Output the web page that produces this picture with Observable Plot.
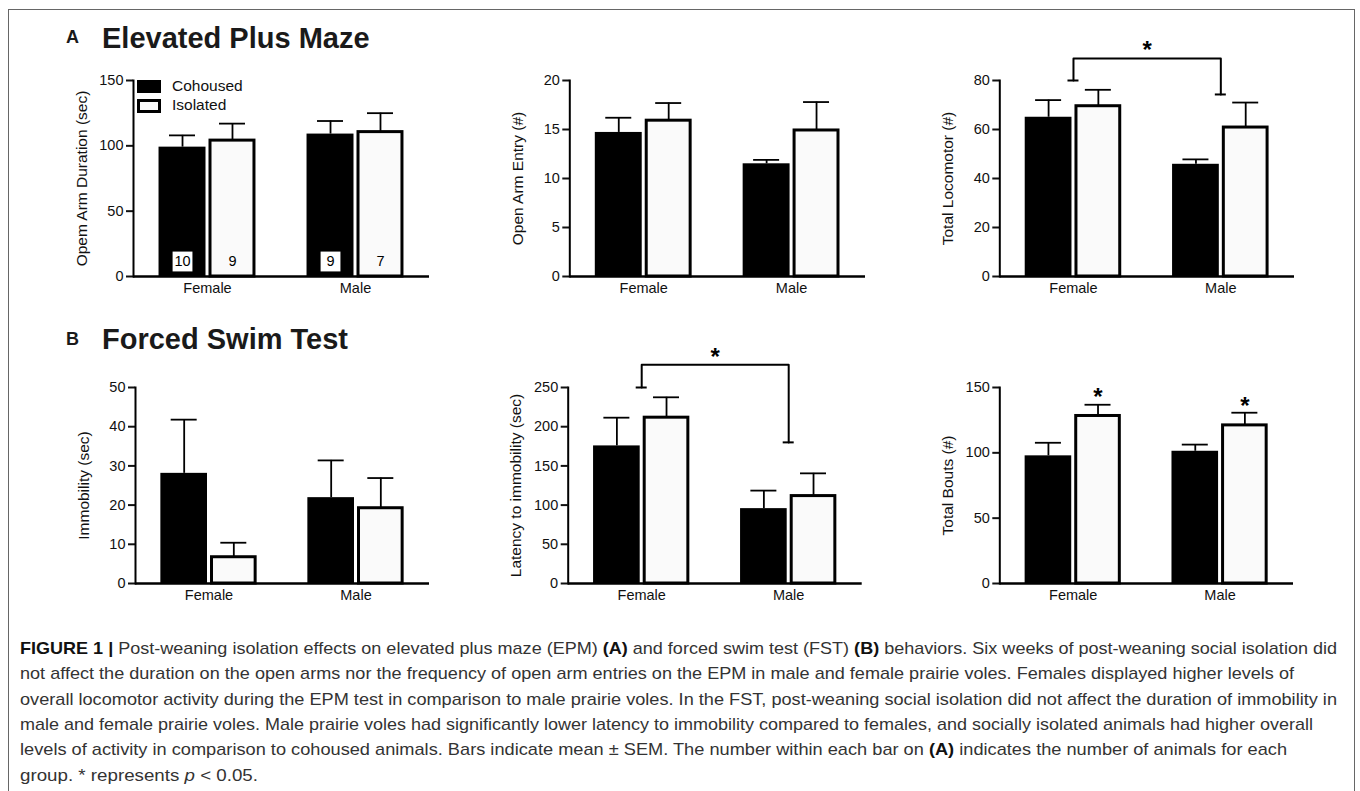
<!DOCTYPE html>
<html>
<head>
<meta charset="utf-8">
<script src="https://cdn.jsdelivr.net/npm/d3@7"></script>
<script src="https://cdn.jsdelivr.net/npm/@observablehq/plot@0.6"></script>
<style>
html, body { margin: 0; padding: 0; background: #fff; overflow: hidden; }
#fig { position: relative; width: 1360px; height: 791px; overflow: hidden; font-family: "Liberation Sans", Arial, Helvetica, sans-serif; }
#border { position: absolute; left: 8px; top: 9px; width: 1347px; height: 900px; border: 1.5px solid #666; box-sizing: border-box; }
.panel { position: absolute; }
.panel svg { overflow: visible; }
.panel g[aria-label="y-axis tick"] { stroke-width: 2px; }
.panel g[aria-label="y-axis label"] text, .panel g[aria-label="y-axis label"] { font-size: 15.5px; }
#overlay { position: absolute; left: 0; top: 0; pointer-events: none; }
.legend { position: absolute; font-size: 15.5px; color: #111; }
.sw { position: absolute; width: 24px; height: 13.5px; box-sizing: border-box; }
</style>
</head>
<body>
<div id="fig">
  <div id="border"></div>
</div>
<script>
// ---------- data ----------
const sexes = ["Female", "Male"];
const housing = ["Cohoused", "Isolated"];
// value order: Female-Cohoused, Female-Isolated, Male-Cohoused, Male-Isolated

const epmDurationMean = [99, 104, 109, 110.5];
const epmDurationSem = [9, 13, 10, 14.5];
const epmDurationN = [10, 9, 9, 7];
const epmDurationTicks = [0, 50, 100, 150];

const epmEntryMean = [14.7, 15.9, 11.5, 14.9];
const epmEntrySem = [1.5, 1.8, 0.4, 2.9];
const epmEntryTicks = [0, 5, 10, 15, 20];

const epmLocoMean = [65, 69.5, 45.8, 60.8];
const epmLocoSem = [7, 6.7, 2, 10.2];
const epmLocoTicks = [0, 20, 40, 60, 80];
const epmLocoBracket = [80, 89, 74.3]; // Female end, bracket top, Male end
const epmLocoStar = 95;

const fstImmMean = [28.1, 6.7, 21.9, 19.2];
const fstImmSem = [13.7, 3.7, 9.5, 7.7];
const fstImmTicks = [0, 10, 20, 30, 40, 50];

const fstLatMean = [175.5, 211.5, 95.5, 111.5];
const fstLatSem = [36, 26, 23, 29];
const fstLatTicks = [0, 50, 100, 150, 200, 250];
const fstLatBracket = [250, 279, 180];
const fstLatStar = 297;

const fstBoutsMean = [97.7, 128.2, 101.2, 121];
const fstBoutsSem = [10, 8.6, 5.1, 9.7];
const fstBoutsTicks = [0, 50, 100, 150];
const fstBoutsIsoStars = [147.5, 141];

const legendLabels = ["Cohoused", "Isolated"];

const panelTitles = [["A", "Elevated Plus Maze"], ["B", "Forced Swim Test"]];

const captionLines = [
  [["FIGURE 1 |", "b"], [" Post-weaning isolation effects on elevated plus maze (EPM) ", ""], ["(A)", "b"], [" and forced swim test (FST) ", ""], ["(B)", "b"], [" behaviors. Six weeks of post-weaning social isolation did", ""]],
  [["not affect the duration on the open arms nor the frequency of open arm entries on the EPM in male and female prairie voles. Females displayed higher levels of", ""]],
  [["overall locomotor activity during the EPM test in comparison to male prairie voles. In the FST, post-weaning social isolation did not affect the duration of immobility in", ""]],
  [["male and female prairie voles. Male prairie voles had significantly lower latency to immobility compared to females, and socially isolated animals had higher overall", ""]],
  [["levels of activity in comparison to cohoused animals. Bars indicate mean \u00b1 SEM. The number within each bar on ", ""], ["(A)", "b"], [" indicates the number of animals for each", ""]],
  [["group. * represents ", ""], ["p", "i"], [" < 0.05.", ""]]
];

// ---------- drawing ----------
const fig = document.getElementById("fig");
const PAD = 0.345;

function makePanel(p) {
  const W = 450, H = 270;
  const step = (p.axisR - p.axisL) / 2;
  const bw = step * (1 - PAD);
  const half = bw / 2;
  const off = (half + 1.5) / 2;
  const cohC = half - off, isoC = half + off;
  const cap = 26;
  const rows = sexes.flatMap((s, i) => housing.map((h, j) => {
    const k = i * 2 + j;
    return {sex: s, housing: h, mean: p.mean[k], sem: p.sem[k], top: p.mean[k] + p.sem[k], n: p.n ? p.n[k] : null};
  }));
  const coh = rows.filter(d => d.housing === housing[0]);
  const iso = rows.filter(d => d.housing === housing[1]);
  const marks = [
    Plot.ruleX(coh, {x: "sex", y1: "mean", y2: "top", dx: -off, stroke: "#000", strokeWidth: 1.8}),
    Plot.ruleX(iso, {x: "sex", y1: "mean", y2: "top", dx: off, stroke: "#000", strokeWidth: 1.8}),
    Plot.tickY(coh, {x: "sex", y: "top", insetLeft: cohC - cap / 2, insetRight: bw - cohC - cap / 2, stroke: "#000", strokeWidth: 1.8}),
    Plot.tickY(iso, {x: "sex", y: "top", insetLeft: isoC - cap / 2, insetRight: bw - isoC - cap / 2, stroke: "#000", strokeWidth: 1.8}),
    Plot.barY(coh, {x: "sex", y: "mean", fill: "#000", insetRight: half + 1.5}),
    Plot.barY(iso, {x: "sex", y: "mean", fill: "#fafafa", stroke: "#000", strokeWidth: 3, insetLeft: half + 3, insetRight: 1.5}),
  ];
  if (p.n) {
    marks.push(
      Plot.dot(coh, {x: "sex", y: () => 0, dx: -off, dy: -15, symbol: "square", r: 11.2, fill: "#fff", stroke: "none"}),
      Plot.text(coh, {x: "sex", y: () => 0, dx: -off, dy: -15, text: d => String(d.n), fill: "#000"}),
      Plot.text(iso, {x: "sex", y: () => 0, dx: off, dy: -15, text: d => String(d.n), fill: "#000"})
    );
  }
  if (p.bracket) {
    const b = p.bracket;
    const br = [{sex: sexes[0], v: b[0]}, {sex: sexes[0], v: b[1]}, {sex: sexes[1], v: b[1]}, {sex: sexes[1], v: b[2]}];
    marks.push(
      Plot.line(br, {x: "sex", y: "v", stroke: "#000", strokeWidth: 2}),
      Plot.tickY([br[0], br[3]], {x: "sex", y: "v", insetLeft: (bw - 11) / 2, insetRight: (bw - 11) / 2, stroke: "#000", strokeWidth: 2}),
      Plot.text([p.star], {y: d => d, text: () => "*", frameAnchor: "middle", fontSize: 24, fontWeight: "bold", dy: 7, fill: "#000"})
    );
  }
  if (p.isoStars) {
    const st = sexes.map((s, i) => ({sex: s, v: p.isoStars[i]}));
    marks.push(Plot.text(st, {x: "sex", y: "v", dx: off, text: () => "*", fontSize: 24, fontWeight: "bold", dy: 7, fill: "#000"}));
  }
  marks.push(
    Plot.ruleY([0], {stroke: "#000", strokeWidth: 2.5}),
    Plot.frame({anchor: "left", stroke: "#000", strokeWidth: 2})
  );
  const plot = Plot.plot({
    width: W, height: H,
    marginLeft: p.axisL - p.left,
    marginRight: p.left + W - p.axisR,
    marginTop: p.yTop - p.top,
    marginBottom: p.top + H - p.yBot,
    style: {fontFamily: "'Liberation Sans', Arial, Helvetica, sans-serif", fontSize: "14.5px", background: "transparent", overflow: "visible", color: "#111"},
    x: {domain: sexes, paddingInner: PAD, paddingOuter: PAD / 2, round: false, label: null, tickSize: 0, tickPadding: 6},
    y: {domain: [0, p.yMax], ticks: p.ticks, tickFormat: d => String(d), tickSize: 7, tickPadding: 3, label: p.label, labelArrow: "none", labelAnchor: "center", labelOffset: 58},
    marks
  });
  const div = document.createElement("div");
  div.className = "panel";
  div.style.left = p.left + "px";
  div.style.top = p.top + "px";
  div.appendChild(plot);
  fig.appendChild(div);
}

makePanel({left: 0, top: 30, axisL: 133, axisR: 429, yTop: 80, yBot: 276, yMax: 150, ticks: epmDurationTicks, label: "Opem Arm Duration (sec)", mean: epmDurationMean, sem: epmDurationSem, n: epmDurationN});
makePanel({left: 450, top: 30, axisL: 569.3, axisR: 865, yTop: 80, yBot: 276, yMax: 20, ticks: epmEntryTicks, label: "Open Arm Entry (#)", mean: epmEntryMean, sem: epmEntrySem});
makePanel({left: 900, top: 30, axisL: 999.3, axisR: 1294, yTop: 80, yBot: 276, yMax: 80, ticks: epmLocoTicks, label: "Total Locomotor (#)", mean: epmLocoMean, sem: epmLocoSem, bracket: epmLocoBracket, star: epmLocoStar});
makePanel({left: 0, top: 337, axisL: 135, axisR: 429, yTop: 387, yBot: 583, yMax: 50, ticks: fstImmTicks, label: "Immobility (sec)", mean: fstImmMean, sem: fstImmSem});
makePanel({left: 450, top: 337, axisL: 567.7, axisR: 861.7, yTop: 387, yBot: 583, yMax: 250, ticks: fstLatTicks, label: "Latency to immobility (sec)", mean: fstLatMean, sem: fstLatSem, bracket: fstLatBracket, star: fstLatStar});
makePanel({left: 900, top: 337, axisL: 999.3, axisR: 1293, yTop: 387, yBot: 583, yMax: 150, ticks: fstBoutsTicks, label: "Total Bouts (#)", mean: fstBoutsMean, sem: fstBoutsSem, isoStars: fstBoutsIsoStars});

// legend (panel A, first chart)
const leg = document.createElement("div");
leg.className = "legend";
leg.style.left = "0px"; leg.style.top = "0px";
const sw1 = document.createElement("div"); sw1.className = "sw";
Object.assign(sw1.style, {left: "137px", top: "79.5px", background: "#000"});
const sw2 = document.createElement("div"); sw2.className = "sw";
Object.assign(sw2.style, {left: "137px", top: "99.3px", background: "#fafafa", border: "3px solid #000"});
leg.appendChild(sw1); leg.appendChild(sw2);
legendLabels.forEach((t, i) => {
  const s = document.createElement("div");
  s.textContent = t;
  Object.assign(s.style, {position: "absolute", left: "172px", top: (i === 0 ? 77 : 96) + "px", whiteSpace: "nowrap", lineHeight: "18px"});
  leg.appendChild(s);
});
fig.appendChild(leg);

// titles + caption overlay
const svg = d3.select(fig).append("svg").attr("id", "overlay").attr("width", 1360).attr("height", 791)
  .style("font-family", "'Liberation Sans', Arial, Helvetica, sans-serif");
const titleY = [[43, 47.7], [345, 349]];
panelTitles.forEach(([letter, title], i) => {
  svg.append("text").attr("x", 66).attr("y", titleY[i][0]).attr("font-size", 18).attr("font-weight", "bold").attr("fill", "#1a1a1a").text(letter);
  svg.append("text").attr("x", 102).attr("y", titleY[i][1]).attr("font-size", 29).attr("font-weight", "bold").attr("fill", "#1a1a1a").text(title);
});
const capEnds = [1337, 1294, 1337, 1313, 1287, 258];
const capX = 20, capY0 = 654, capLH = 25.3;
captionLines.forEach((segs, i) => {
  const t = svg.append("text").attr("x", capX).attr("y", capY0 + i * capLH)
    .attr("font-size", 17).attr("fill", "#333").style("white-space", "pre")
    .attr("textLength", capEnds[i] - capX).attr("lengthAdjust", "spacingAndGlyphs");
  segs.forEach(([s, st]) => {
    const ts = t.append("tspan").text(s);
    if (st === "b") ts.attr("font-weight", "bold").attr("fill", "#111");
    if (st === "i") ts.attr("font-style", "italic");
  });
});
</script>
</body>
</html>
